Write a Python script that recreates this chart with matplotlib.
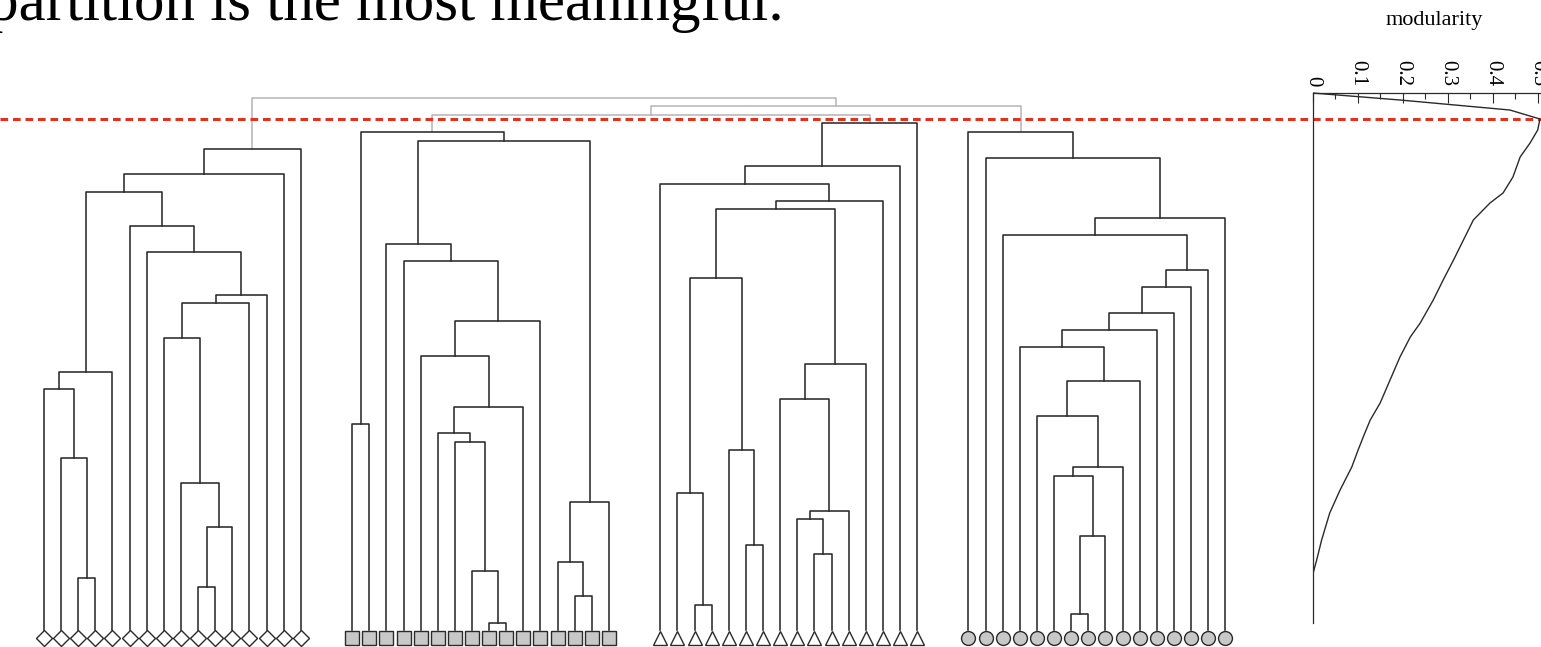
import numpy as np
import matplotlib
matplotlib.use("Agg")
import matplotlib.pyplot as plt

plt.rcParams["font.family"] = ["Liberation Serif", "DejaVu Serif"]
plt.rcParams["lines.scale_dashes"] = False

# merges inside each group: (left node, right node, height)
# nodes 0-15 are the leaves, node 16+k is the k-th merge
diamond_merges = [
    (2, 3, 0.52), (1, 16, 1.72), (0, 17, 2.41), (18, 4, 2.58),
    (9, 10, 0.43), (20, 11, 1.03), (8, 21, 1.47), (7, 22, 2.92),
    (23, 12, 3.27), (24, 13, 3.35), (6, 25, 3.78), (5, 26, 4.04),
    (19, 27, 4.38), (28, 14, 4.56), (29, 15, 4.81),
]
square_merges = [
    (0, 1, 2.06), (8, 9, 0.07), (7, 17, 0.59), (6, 18, 1.88),
    (5, 19, 1.97), (20, 10, 2.23), (4, 21, 2.74), (22, 11, 3.09),
    (3, 23, 3.69), (2, 24, 3.86), (13, 14, 0.34), (12, 26, 0.68),
    (27, 15, 1.28), (25, 28, 4.89), (16, 29, 4.98),
]
triangle_merges = [
    (2, 3, 0.25), (1, 16, 1.37), (5, 6, 0.85), (4, 18, 1.80),
    (17, 19, 3.52), (9, 10, 0.76), (8, 21, 1.11), (22, 11, 1.19),
    (7, 23, 2.31), (24, 12, 2.66), (20, 25, 4.21), (26, 13, 4.29),
    (0, 27, 4.46), (28, 14, 4.64), (29, 15, 5.07),
]
circle_merges = [
    (6, 7, 0.16), (16, 8, 0.94), (5, 17, 1.54), (18, 9, 1.63),
    (4, 19, 2.14), (20, 10, 2.49), (3, 21, 2.83), (22, 11, 3.00),
    (23, 12, 3.17), (24, 13, 3.43), (25, 14, 3.60), (2, 26, 3.95),
    (27, 15, 4.12), (1, 28, 4.72), (0, 29, 4.98),
]

# joins between group roots: squares+triangles, +circles, diamonds+rest
join_heights = [5.15, 5.24, 5.32]
cut_height = 5.11

# modularity of the partition found by cutting the tree at each height
mod_height = [5.37, 5.30, 5.20, 5.11, 5.00, 4.87, 4.73, 4.53, 4.37, 4.27,
              4.10, 3.90, 3.70, 3.50, 3.30, 3.07, 2.93, 2.73, 2.50, 2.27,
              2.10, 1.97, 1.80, 1.63, 1.40, 1.17, 0.90, 0.70, 0.55]
mod_value = [0.000, 0.194, 0.438, 0.505, 0.500, 0.483, 0.461, 0.445, 0.423, 0.394,
             0.357, 0.335, 0.313, 0.290, 0.268, 0.239, 0.217, 0.194, 0.172, 0.150,
             0.128, 0.116, 0.101, 0.087, 0.061, 0.038, 0.020, 0.009, 0.000]
mod_ticks = [0, 0.1, 0.2, 0.3, 0.4, 0.5]
mod_ticklabels = ["0", "0.1", "0.2", "0.3", "0.4", "0.5"]

n_leaves = 16
group_step = 18
line_col = "#2a2a2a"
join_col = "#b4b4b4"
cut_col = "#e0321e"
leaf_y = -0.08

fig = plt.figure(figsize=(15.41, 6.47), dpi=100)
ax = fig.add_axes([0, 0, 1, 1])
ax.set_xlim(-2.57, 87.44)
ax.set_ylim(-0.17, 6.30)
ax.axis("off")


def draw_tree(ax, merges, offset):
    xs = [offset + i for i in range(n_leaves)]
    hs = [0.0] * n_leaves
    for a, b, h in merges:
        ax.plot([xs[a], xs[a], xs[b], xs[b]], [hs[a], h, h, hs[b]],
                color=line_col, lw=1.15, zorder=2)
        xs.append((xs[a] + xs[b]) / 2)
        hs.append(h)
    return xs[-1], hs[-1]


def join(ax, left, right, h):
    ax.plot([left[0], left[0], right[0], right[0]], [left[1], h, h, right[1]],
            color=join_col, lw=1.1, zorder=1)
    return (left[0] + right[0]) / 2, h


groups = [
    (diamond_merges, "D", "white", 8.2),
    (square_merges, "s", "#c8c8c8", 9.5),
    (triangle_merges, "^", "white", 10.5),
    (circle_merges, "o", "#c8c8c8", 10.0),
]
roots = []
for g, (merges, marker, fill, size) in enumerate(groups):
    offset = g * group_step
    roots.append(draw_tree(ax, merges, offset))
    ax.plot(offset + np.arange(n_leaves), np.full(n_leaves, leaf_y), ls="none",
            marker=marker, ms=size, mfc=fill, mec=line_col, mew=1.0, zorder=3)

top = join(ax, roots[1], roots[2], join_heights[0])
top = join(ax, top, roots[3], join_heights[1])
join(ax, roots[0], top, join_heights[2])

ax.axhline(cut_height, color=cut_col, lw=2.2, dashes=(5.5, 3.5), zorder=5)

# modularity panel on the right, sharing the height scale
mx = fig.add_axes([0.8518, 0, 0.1482, 1])
mx.set_xlim(0, 0.5073)
mx.set_ylim(-0.17, 6.30)
mx.patch.set_alpha(0)
mx.spines["right"].set_visible(False)
mx.spines["bottom"].set_visible(False)
mx.spines["top"].set_position(("data", 5.37))
mx.spines["left"].set_bounds(0.07, 5.37)
for s in ["top", "left"]:
    mx.spines[s].set_color(line_col)
    mx.spines[s].set_linewidth(0.9)
mx.xaxis.set_ticks_position("top")
mx.set_xticks(mod_ticks)
mx.set_xticklabels(mod_ticklabels)
mx.set_xticks(np.arange(0.05, 0.5, 0.1), minor=True)
mx.tick_params(axis="x", which="major", direction="in", length=7, width=0.8,
               color=line_col, pad=5, labelsize=15, labelrotation=270)
mx.tick_params(axis="x", which="minor", direction="in", length=4, width=0.8,
               color=line_col)
mx.set_yticks([])
mx.plot(mod_value, mod_height, color=line_col, lw=1.0)

fig.text(1434 / 1541, 1 - 25 / 647, "modularity", ha="center", va="baseline",
         size=16)
fig.text(-12 / 1541, 1 - 20 / 647, "partition is the most meaningful.",
         ha="left", va="baseline", size=44)

fig.savefig("out.png", dpi=100)
